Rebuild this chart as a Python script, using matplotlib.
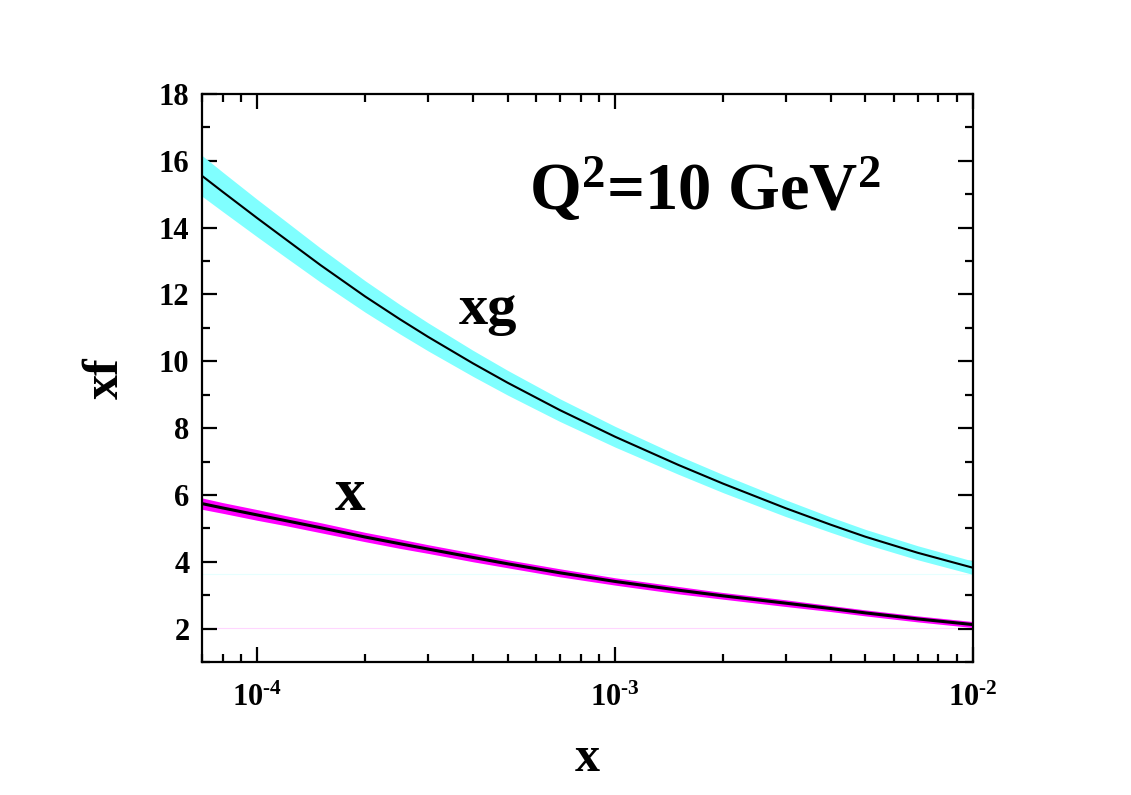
import numpy as np
import matplotlib
matplotlib.use("Agg")
import matplotlib.pyplot as plt
from matplotlib.ticker import LogLocator, NullFormatter, MultipleLocator

plt.rcParams['font.family'] = 'Liberation Serif'
plt.rcParams['font.weight'] = 'bold'
plt.rcParams['mathtext.fontset'] = 'custom'
plt.rcParams['mathtext.rm'] = 'Liberation Serif:bold'
plt.rcParams['mathtext.bf'] = 'Liberation Serif:bold'
plt.rcParams['mathtext.it'] = 'Liberation Serif:bold'

# x grid
x_vals = [7e-5, 8e-5, 1e-4, 1.2e-4, 1.5e-4, 2e-4, 2.5e-4, 3e-4, 4e-4, 5e-4,
          7e-4, 1e-3, 1.5e-3, 2e-3, 3e-3, 4e-3, 5e-3, 7e-3, 1e-2]

# gluon xg: central, lower, upper
xg_mid = [15.55, 15.07, 14.28, 13.65, 12.88, 11.94, 11.26, 10.73, 9.94, 9.36,
          8.54, 7.74, 6.90, 6.34, 5.60, 5.11, 4.75, 4.27, 3.82]
xg_lo = [14.94, 14.48, 13.72, 13.11, 12.37, 11.47, 10.82, 10.31, 9.55, 8.99,
         8.20, 7.43, 6.62, 6.07, 5.35, 4.88, 4.53, 4.06, 3.62]
xg_hi = [16.16, 15.66, 14.84, 14.19, 13.39, 12.41, 11.70, 11.15, 10.33, 9.73,
         8.88, 8.05, 7.18, 6.61, 5.85, 5.34, 4.97, 4.48, 4.02]

# quark x: central, lower, upper
xq_mid = [5.74, 5.61, 5.40, 5.23, 5.02, 4.74, 4.54, 4.38, 4.13, 3.94,
          3.67, 3.41, 3.15, 2.98, 2.76, 2.60, 2.47, 2.29, 2.12]
xq_lo = [5.57, 5.45, 5.24, 5.08, 4.87, 4.60, 4.40, 4.25, 4.00, 3.82,
         3.55, 3.30, 3.04, 2.88, 2.66, 2.51, 2.38, 2.20, 2.03]
xq_hi = [5.91, 5.77, 5.56, 5.38, 5.17, 4.88, 4.68, 4.51, 4.26, 4.06,
         3.79, 3.52, 3.26, 3.08, 2.86, 2.69, 2.56, 2.38, 2.21]

fig = plt.figure(figsize=(11.31, 7.95), dpi=100)
ax = fig.add_axes([0.1786, 0.1673, 0.6817, 0.7145])

# faint baseline artefacts at band minima
ax.axhline(min(xg_lo), color='#e6ffff', lw=0.8, zorder=1)
ax.axhline(min(xq_lo), color='#ffd6ff', lw=0.8, zorder=1)

ax.fill_between(x_vals, xg_lo, xg_hi, color='#80ffff', lw=0, zorder=2)
ax.plot(x_vals, xg_mid, color='black', lw=1.5, zorder=3)

ax.fill_between(x_vals, xq_lo, xq_hi, color='#ff00ff', lw=0, zorder=2)
ax.plot(x_vals, xq_mid, color='black', lw=2.2, zorder=3)

ax.set_xscale('log')
ax.set_xlim(7e-5, 1e-2)
ax.set_ylim(1, 18)

ax.set_xticks([1e-4, 1e-3, 1e-2])
ax.set_xticklabels([r'$10^{\text{-}4}$', r'$10^{\text{-}3}$', r'$10^{\text{-}2}$'])
ax.xaxis.set_minor_locator(LogLocator(base=10, subs=np.arange(2, 10)))
ax.xaxis.set_minor_formatter(NullFormatter())
ax.yaxis.set_minor_locator(MultipleLocator(1))
ax.set_yticks(range(2, 19, 2))

ax.tick_params(which='both', direction='in', top=True, right=True, width=1.6)
ax.tick_params(which='major', length=11, labelsize=22)
ax.tick_params(axis='y', which='major', pad=9)
ax.tick_params(axis='x', which='major', pad=16)
ax.tick_params(which='minor', length=6)
for sp in ax.spines.values():
    sp.set_linewidth(1.6)

ax.set_xlabel('x', fontsize=36, fontweight='bold', labelpad=16)
ax.set_ylabel('xf', fontsize=36, fontweight='bold', labelpad=22)

ax.text(4.42e-4, 11.54, 'xg', fontsize=42, fontweight='bold', ha='center', va='center')
ax.text(1.82e-4, 6.0, 'x', fontsize=44, fontweight='bold', ha='center', va='center')
ax.text(1.78e-3, 15.13, r'Q$^2$=10 GeV$^2$', fontsize=48, fontweight='bold',
        ha='center', va='center')

fig.savefig('out.png', dpi=100)
